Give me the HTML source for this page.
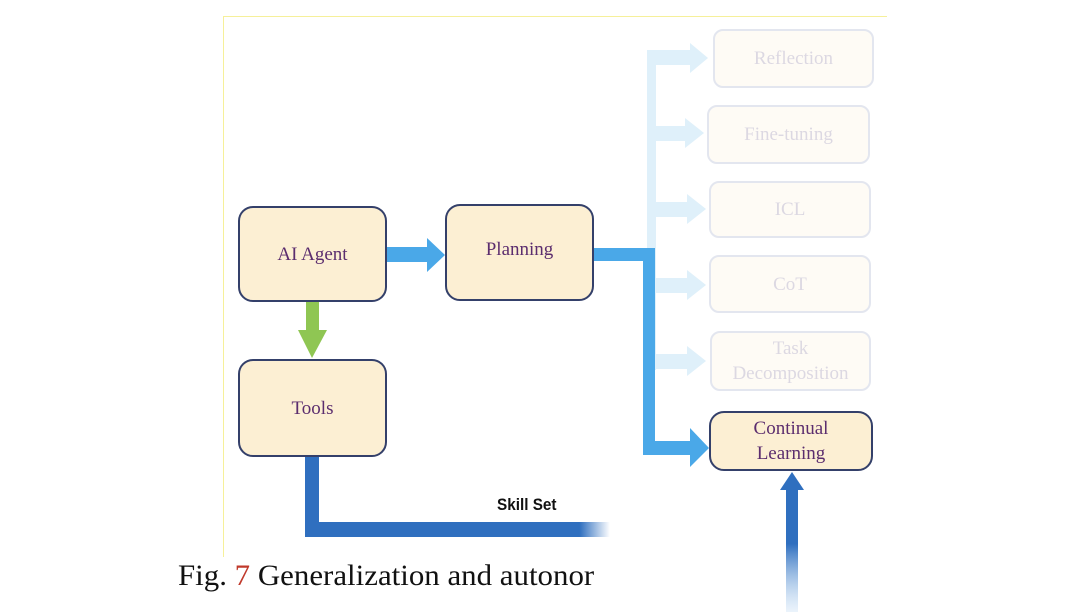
<!DOCTYPE html>
<html><head><style>
body{margin:0;width:1080px;height:612px;background:#fff;position:relative;overflow:hidden;font-family:"Liberation Serif",serif}
.a{position:absolute}
.box{position:absolute;border:2px solid #34406a;border-radius:15px;background:#fcefd3;box-sizing:border-box;display:flex;align-items:center;justify-content:center;text-align:center;color:#5b2d6e;font-size:19px;line-height:25px}
.fade{border-color:#e3e6ef;background:#fefbf5;color:#dcd8e2;border-radius:10px}
</style></head><body>
<div class="a" style="left:223px;top:16px;width:664px;height:1px;background:#f6f09a"></div>
<div class="a" style="left:223px;top:16px;width:1px;height:541px;background:#f6f09a"></div>

<svg class="a" style="left:0;top:0" width="1080" height="612">
<defs>
<linearGradient id="g1" x1="0" y1="0" x2="0" y2="1"><stop offset="0" stop-color="#2f6fbf"/><stop offset="0.45" stop-color="#2f6fbf"/><stop offset="1" stop-color="#bcd8f3" stop-opacity="0.3"/></linearGradient>
<linearGradient id="g2" x1="0" y1="0" x2="1" y2="0"><stop offset="0" stop-color="#2f6fbf"/><stop offset="0.9" stop-color="#2f6fbf"/><stop offset="1" stop-color="#2f6fbf" stop-opacity="0"/></linearGradient>
</defs>
<g fill="#dff0fa">
<rect x="647" y="50" width="9" height="320"/>
<rect x="647" y="50" width="45" height="15"/><polygon points="690,43 708,58 690,73"/>
<rect x="647" y="126" width="40" height="15"/><polygon points="685,118 704,133 685,148"/>
<rect x="647" y="202" width="42" height="15"/><polygon points="687,194 706,209 687,224"/>
<rect x="647" y="278" width="42" height="15"/><polygon points="687,270 706,285 687,300"/>
<rect x="647" y="354" width="42" height="15"/><polygon points="687,346 706,361 687,376"/>
</g>
<rect x="387" y="247" width="42" height="15" fill="#4aa8e8"/><polygon points="427,238 445,255 427,272" fill="#4aa8e8"/>
<path d="M594 248 H655 V441 H692 V455 H643 V261 H594 Z" fill="#4aa8e8"/>
<polygon points="690,428 709,448 690,467" fill="#4aa8e8"/>
<rect x="306" y="301" width="13" height="32" fill="#8fc653"/><polygon points="298,330 327,330 312,358" fill="#8fc653"/>
<rect x="305" y="457" width="14" height="80" fill="#2f6fbf"/>
<rect x="305" y="522" width="305" height="15" fill="url(#g2)"/>
<rect x="786" y="488" width="12" height="124" fill="url(#g1)"/>
<polygon points="780,490 792,472 804,490" fill="#2f6fbf"/>
</svg>

<div class="box" style="left:238px;top:206px;width:149px;height:96px">AI Agent</div>
<div class="box" style="left:445px;top:204px;width:149px;height:97px;padding-bottom:6px">Planning</div>
<div class="box" style="left:238px;top:359px;width:149px;height:98px">Tools</div>
<div class="box" style="left:709px;top:411px;width:164px;height:60px">Continual<br>Learning</div>

<div class="box fade" style="left:713px;top:29px;width:161px;height:59px">Reflection</div>
<div class="box fade" style="left:707px;top:105px;width:163px;height:59px">Fine-tuning</div>
<div class="box fade" style="left:709px;top:181px;width:162px;height:57px">ICL</div>
<div class="box fade" style="left:709px;top:255px;width:162px;height:58px">CoT</div>
<div class="box fade" style="left:710px;top:331px;width:161px;height:60px">Task<br>Decomposition</div>

<div class="a" style="left:497px;top:495px;font-family:'Liberation Sans',sans-serif;font-size:17px;font-weight:bold;color:#111;transform:scaleX(0.9);transform-origin:left">Skill Set</div>
<div class="a" style="left:178px;top:559px;font-size:30px;color:#111;white-space:nowrap;transform:scaleX(1.03);transform-origin:left">Fig. <span style="color:#c0392b">7</span> Generalization and autonor</div>
<div class="a" style="left:592px;top:555px;width:60px;height:50px;background:linear-gradient(90deg,rgba(255,255,255,0),#fff 70%)"></div>
</body></html>
